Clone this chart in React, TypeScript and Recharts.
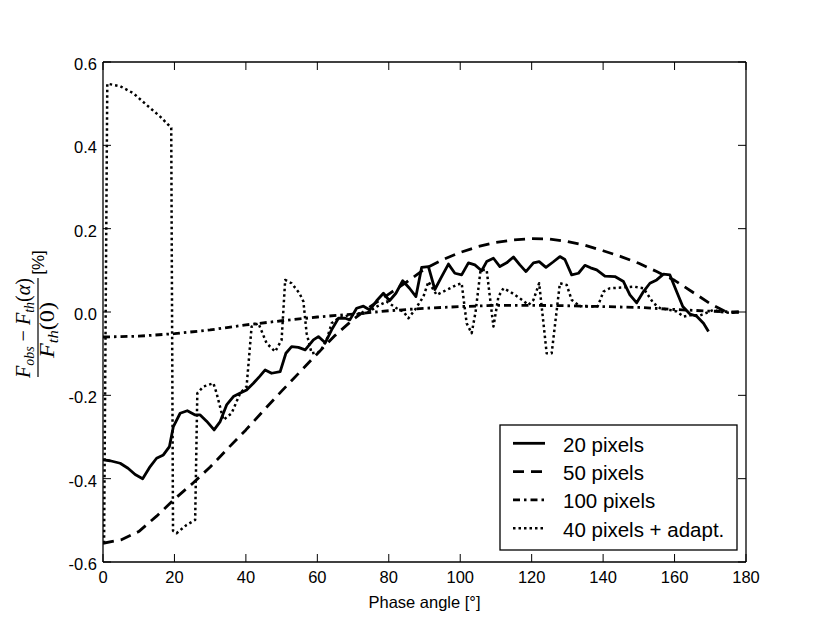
import { Line, LineChart, XAxis, YAxis } from "recharts";

const W = 830;
const H = 623;
// plot box in page pixels
const PLOT = { left: 103, right: 746, top: 62, bottom: 562 };
const TICK_LEN = 8;
const SANS = "'Liberation Sans', Arial, Helvetica, sans-serif";
const SERIF = "'Liberation Serif', 'DejaVu Serif', serif";

const X_TICKS = [0, 20, 40, 60, 80, 100, 120, 140, 160, 180];
const Y_TICKS = [-0.6, -0.4, -0.2, 0, 0.2, 0.4, 0.6];

// 20 pixels
const PHASE_20 = [
  0, 2, 4.8, 7, 9, 11.1, 13.2, 15, 16.9, 18.6, 19.7, 21.6, 23.6, 25.8, 27.2,
  29, 31.1, 32.8, 34.6, 36.5, 38.3, 40.2, 42.1, 43.8, 45.4, 47.2, 49.6, 51.2,
  52.8, 54.7, 56.6, 58.9, 60.3, 62.2, 64, 65.9, 67.8, 69.1, 71, 72.9, 74.7,
  76.6, 78.5, 80.2, 82, 83.9, 85.8, 87.6, 89.2, 91.1, 92.9, 94.8, 96.7, 98.5,
  100.4, 102.3, 104.1, 106, 107.4, 109.3, 111.1, 113, 114.9, 116.7, 118.4,
  120.5, 122.1, 124, 126, 127.9, 129.3, 131.2, 133.1, 134.9, 136.5, 138.2,
  140.5, 143.3, 145.7, 147.5, 149.4, 151.3, 153.1, 155, 156.9, 158.7, 160.4,
  162.3, 164.3, 166.2, 168.1, 169.5,
];
const DELTA_20 = [
  -0.355, -0.357, -0.363, -0.375, -0.39, -0.4, -0.371, -0.351, -0.343, -0.323,
  -0.275, -0.243, -0.237, -0.247, -0.247, -0.262, -0.283, -0.263, -0.223,
  -0.203, -0.195, -0.187, -0.171, -0.155, -0.139, -0.147, -0.143, -0.099,
  -0.083, -0.085, -0.091, -0.067, -0.059, -0.074, -0.043, -0.015, -0.015,
  -0.019, 0.009, 0.014, 0.005, 0.027, 0.045, 0.027, 0.045, 0.075, 0.057, 0.037,
  0.107, 0.109, 0.054, 0.085, 0.115, 0.093, 0.089, 0.118, 0.113, 0.099, 0.121,
  0.129, 0.109, 0.118, 0.132, 0.113, 0.097, 0.118, 0.121, 0.107, 0.12, 0.133,
  0.126, 0.089, 0.093, 0.112, 0.106, 0.101, 0.086, 0.085, 0.073, 0.041, 0.022,
  0.049, 0.069, 0.077, 0.091, 0.089, 0.053, 0.013, -0.005, -0.01, -0.027,
  -0.047,
];

// 50 pixels
const PHASE_50 = [
  0, 5, 10, 15, 20, 25, 30, 35, 40, 45, 50, 55, 60, 65, 70, 75, 80, 85, 90, 95,
  100, 105, 110, 115, 120, 125, 130, 135, 140, 145, 150, 155, 160, 165, 170,
  175, 178,
];
const DELTA_50 = [
  -0.555, -0.547, -0.527, -0.49, -0.449, -0.412, -0.372, -0.327, -0.283,
  -0.236, -0.19, -0.145, -0.1, -0.056, -0.018, 0.014, 0.043, 0.072, 0.103,
  0.125, 0.143, 0.157, 0.167, 0.173, 0.176, 0.175, 0.169, 0.16, 0.147, 0.133,
  0.117, 0.097, 0.076, 0.048, 0.02, -0.002, 0,
];

// 100 pixels
const PHASE_100 = [
  0, 10, 20, 30, 40, 50, 60, 70, 80, 90, 100, 110, 120, 130, 140, 150, 160, 170,
  178,
];
const DELTA_100 = [
  -0.06, -0.058, -0.052, -0.043, -0.031, -0.021, -0.012, -0.005, 0.003, 0.009,
  0.013, 0.016, 0.016, 0.015, 0.013, 0.011, 0.006, 0.002, 0,
];

// 40 pixels + adapt.
const PHASE_40A = [
  0.3, 1.2, 4.8, 8.5, 12.2, 16, 18.3, 19.1, 19.6, 20.6, 23.4, 25.8, 26.4, 28.1,
  30.9, 31.8, 33.7, 36, 38.4, 40.2, 41.6, 43.5, 45.8, 48.2, 50, 51, 52.8, 55,
  56.1, 57, 58.4, 60.8, 62.6, 64, 65.9, 69.1, 71.5, 73.8, 76.6, 79.4, 82.2,
  84.1, 85.5, 87.3, 89.7, 91.1, 93.4, 96.2, 99, 100.4, 101.8, 103.2, 104.3,
  105.7, 107.4, 109.3, 110.7, 112.1, 113.9, 116.7, 119.1, 120.5, 122.1, 124.2,
  125.6, 127.9, 129.8, 131.2, 133.5, 136.3, 138.5, 140.1, 141.9, 145.7, 148.5,
  151.3, 154.1, 156, 158.7, 160.6, 162.5, 164.3, 167.2, 170.9, 173, 175.5, 178,
];
const DELTA_40A = [
  -0.555, 0.548, 0.542, 0.525, 0.497, 0.469, 0.449, 0.442, -0.525, -0.531,
  -0.511, -0.499, -0.195, -0.179, -0.171, -0.195, -0.259, -0.243, -0.195,
  -0.179, -0.035, -0.027, -0.075, -0.095, -0.067, 0.077, 0.069, 0.045, 0.025,
  -0.051, -0.099, -0.095, -0.067, -0.027, -0.015, -0.007, -0.005, -0.003,
  0.013, 0.025, 0.009, 0.001, -0.015, 0.005, 0.037, 0.073, 0.041, 0.053, 0.065,
  0.069, -0.027, -0.051, 0.0, 0.101, 0.101, -0.035, 0.037, 0.057, 0.049, 0.033,
  0.017, 0.029, 0.069, -0.099, -0.099, 0.069, 0.065, 0.029, 0.014, 0.013,
  0.014, 0.049, 0.057, 0.059, 0.061, 0.057, 0.021, 0.009, 0.005, 0.001, -0.011,
  -0.008, -0.008, 0.005, 0, -0.002, 0,
];

const zip = (xs: number[], ys: number[]) =>
  xs.map((x, i) => ({ x, y: ys[i] }));

const SERIES = [
  { name: "20 pixels", data: zip(PHASE_20, DELTA_20), width: 2.8, dash: undefined },
  { name: "50 pixels", data: zip(PHASE_50, DELTA_50), width: 2.8, dash: "11 7" },
  { name: "100 pixels", data: zip(PHASE_100, DELTA_100), width: 2.8, dash: "7 4 2.5 4" },
  { name: "40 pixels + adapt.", data: zip(PHASE_40A, DELTA_40A), width: 2.5, dash: "2.5 3" },
];

const tickText = {
  fontFamily: SANS,
  fontSize: 16.5,
  fill: "#000",
};

function BottomTick({ x, payload }: any) {
  return (
    <g>
      <line x1={x} x2={x} y1={PLOT.bottom} y2={PLOT.bottom - TICK_LEN} stroke="#000" strokeWidth={1} />
      <text x={x} y={PLOT.bottom + 15} textAnchor="middle" dominantBaseline="central" {...tickText}>
        {payload.value}
      </text>
    </g>
  );
}

function TopTick({ x }: any) {
  return <line x1={x} x2={x} y1={PLOT.top} y2={PLOT.top + TICK_LEN} stroke="#000" strokeWidth={1} />;
}

function LeftTick({ y, payload }: any) {
  return (
    <g>
      <line x1={PLOT.left} x2={PLOT.left + TICK_LEN} y1={y} y2={y} stroke="#000" strokeWidth={1} />
      <text x={PLOT.left - 6} y={y + 2} textAnchor="end" dominantBaseline="central" {...tickText}>
        {Number(payload.value).toFixed(1)}
      </text>
    </g>
  );
}

function RightTick({ y }: any) {
  return <line x1={PLOT.right} x2={PLOT.right - TICK_LEN} y1={y} y2={y} stroke="#000" strokeWidth={1} />;
}

// rotated fraction label; local x runs up the page, local y runs right
function YLabel() {
  return (
    <g transform="translate(38, 316) rotate(-90)" fill="#000">
      <text
        x={-12}
        y={-8}
        textAnchor="middle"
        fontFamily={SERIF}
        fontSize={21}
        textLength={100}
        lengthAdjust="spacingAndGlyphs"
      >
        <tspan fontStyle="italic">F</tspan>
        <tspan fontStyle="italic" fontSize={14.5} dy={4}>obs</tspan>
        <tspan dy={-4}> − </tspan>
        <tspan fontStyle="italic">F</tspan>
        <tspan fontStyle="italic" fontSize={14.5} dy={4}>th</tspan>
        <tspan dy={-4}>(</tspan>
        <tspan fontStyle="italic">α</tspan>
        <tspan>)</tspan>
      </text>
      <line x1={-61} x2={38} y1={0} y2={0} stroke="#000" strokeWidth={1.2} />
      <text
        x={-14}
        y={16}
        textAnchor="middle"
        fontFamily={SERIF}
        fontSize={21}
        textLength={56}
        lengthAdjust="spacingAndGlyphs"
      >
        <tspan fontStyle="italic">F</tspan>
        <tspan fontStyle="italic" fontSize={14.5} dy={4}>th</tspan>
        <tspan dy={-4}>(0)</tspan>
      </text>
      <text x={53.5} y={6} textAnchor="middle" fontFamily={SANS} fontSize={17}>
        [%]
      </text>
    </g>
  );
}

function LegendBox() {
  const box = { left: 500, top: 425, right: 737, bottom: 550 };
  const rowGap = 28.3;
  return (
    <g>
      <rect
        x={box.left}
        y={box.top}
        width={box.right - box.left}
        height={box.bottom - box.top}
        fill="#fff"
        stroke="#000"
        strokeWidth={1.3}
      />
      {SERIES.map((s, i) => {
        const cy = box.top + 18.3 + i * rowGap;
        return (
          <g key={s.name}>
            <line
              x1={513}
              x2={545}
              y1={cy}
              y2={cy}
              stroke="#000"
              strokeWidth={s.width}
              strokeDasharray={s.dash}
            />
            <text x={563} y={cy + 1} dominantBaseline="central" fontFamily={SANS} fontSize={20.5} fill="#000">
              {s.name}
            </text>
          </g>
        );
      })}
    </g>
  );
}

export default function App() {
  return (
    <div style={{ position: "absolute", left: 0, top: 0, width: W, height: H, background: "#fff" }}>
      <LineChart width={W} height={H} margin={{ top: 0, right: 0, bottom: 0, left: 0 }}>
        <XAxis
          xAxisId="bottom"
          type="number"
          dataKey="x"
          domain={[0, 180]}
          ticks={X_TICKS}
          interval={0}
          height={H - PLOT.bottom}
          tickSize={0}
          tickMargin={0}
          tickLine={false}
          tick={<BottomTick />}
          axisLine={{ stroke: "#000", strokeWidth: 1.3 }}
          allowDataOverflow
          label={{
            value: "Phase angle [°]",
            position: "insideBottom",
            offset: 15,
            style: { fontFamily: SANS, fontSize: 16.5, fill: "#000" },
          }}
        />
        <XAxis
          xAxisId="top"
          orientation="top"
          type="number"
          dataKey="x"
          domain={[0, 180]}
          ticks={X_TICKS}
          interval={0}
          height={PLOT.top}
          tickSize={0}
          tickMargin={0}
          tickLine={false}
          tick={<TopTick />}
          axisLine={{ stroke: "#000", strokeWidth: 1.3 }}
          allowDataOverflow
        />
        <YAxis
          yAxisId="left"
          type="number"
          domain={[-0.6, 0.6]}
          ticks={Y_TICKS}
          interval={0}
          width={PLOT.left}
          tickSize={0}
          tickMargin={0}
          tickLine={false}
          tick={<LeftTick />}
          axisLine={{ stroke: "#000", strokeWidth: 1.3 }}
          allowDataOverflow
        />
        <YAxis
          yAxisId="right"
          orientation="right"
          type="number"
          domain={[-0.6, 0.6]}
          ticks={Y_TICKS}
          interval={0}
          width={W - PLOT.right}
          tickSize={0}
          tickMargin={0}
          tickLine={false}
          tick={<RightTick />}
          axisLine={{ stroke: "#000", strokeWidth: 1.3 }}
          allowDataOverflow
        />
        {SERIES.map((s) => (
          <Line
            key={s.name}
            xAxisId="bottom"
            yAxisId="left"
            data={s.data}
            dataKey="y"
            name={s.name}
            type="linear"
            stroke="#000"
            strokeWidth={s.width}
            strokeDasharray={s.dash}
            strokeLinejoin="round"
            dot={false}
            activeDot={false}
            isAnimationActive={false}
          />
        ))}
      </LineChart>
      <svg
        width={W}
        height={H}
        style={{ position: "absolute", left: 0, top: 0, pointerEvents: "none" }}
      >
        <YLabel />
        <LegendBox />
      </svg>
    </div>
  );
}
